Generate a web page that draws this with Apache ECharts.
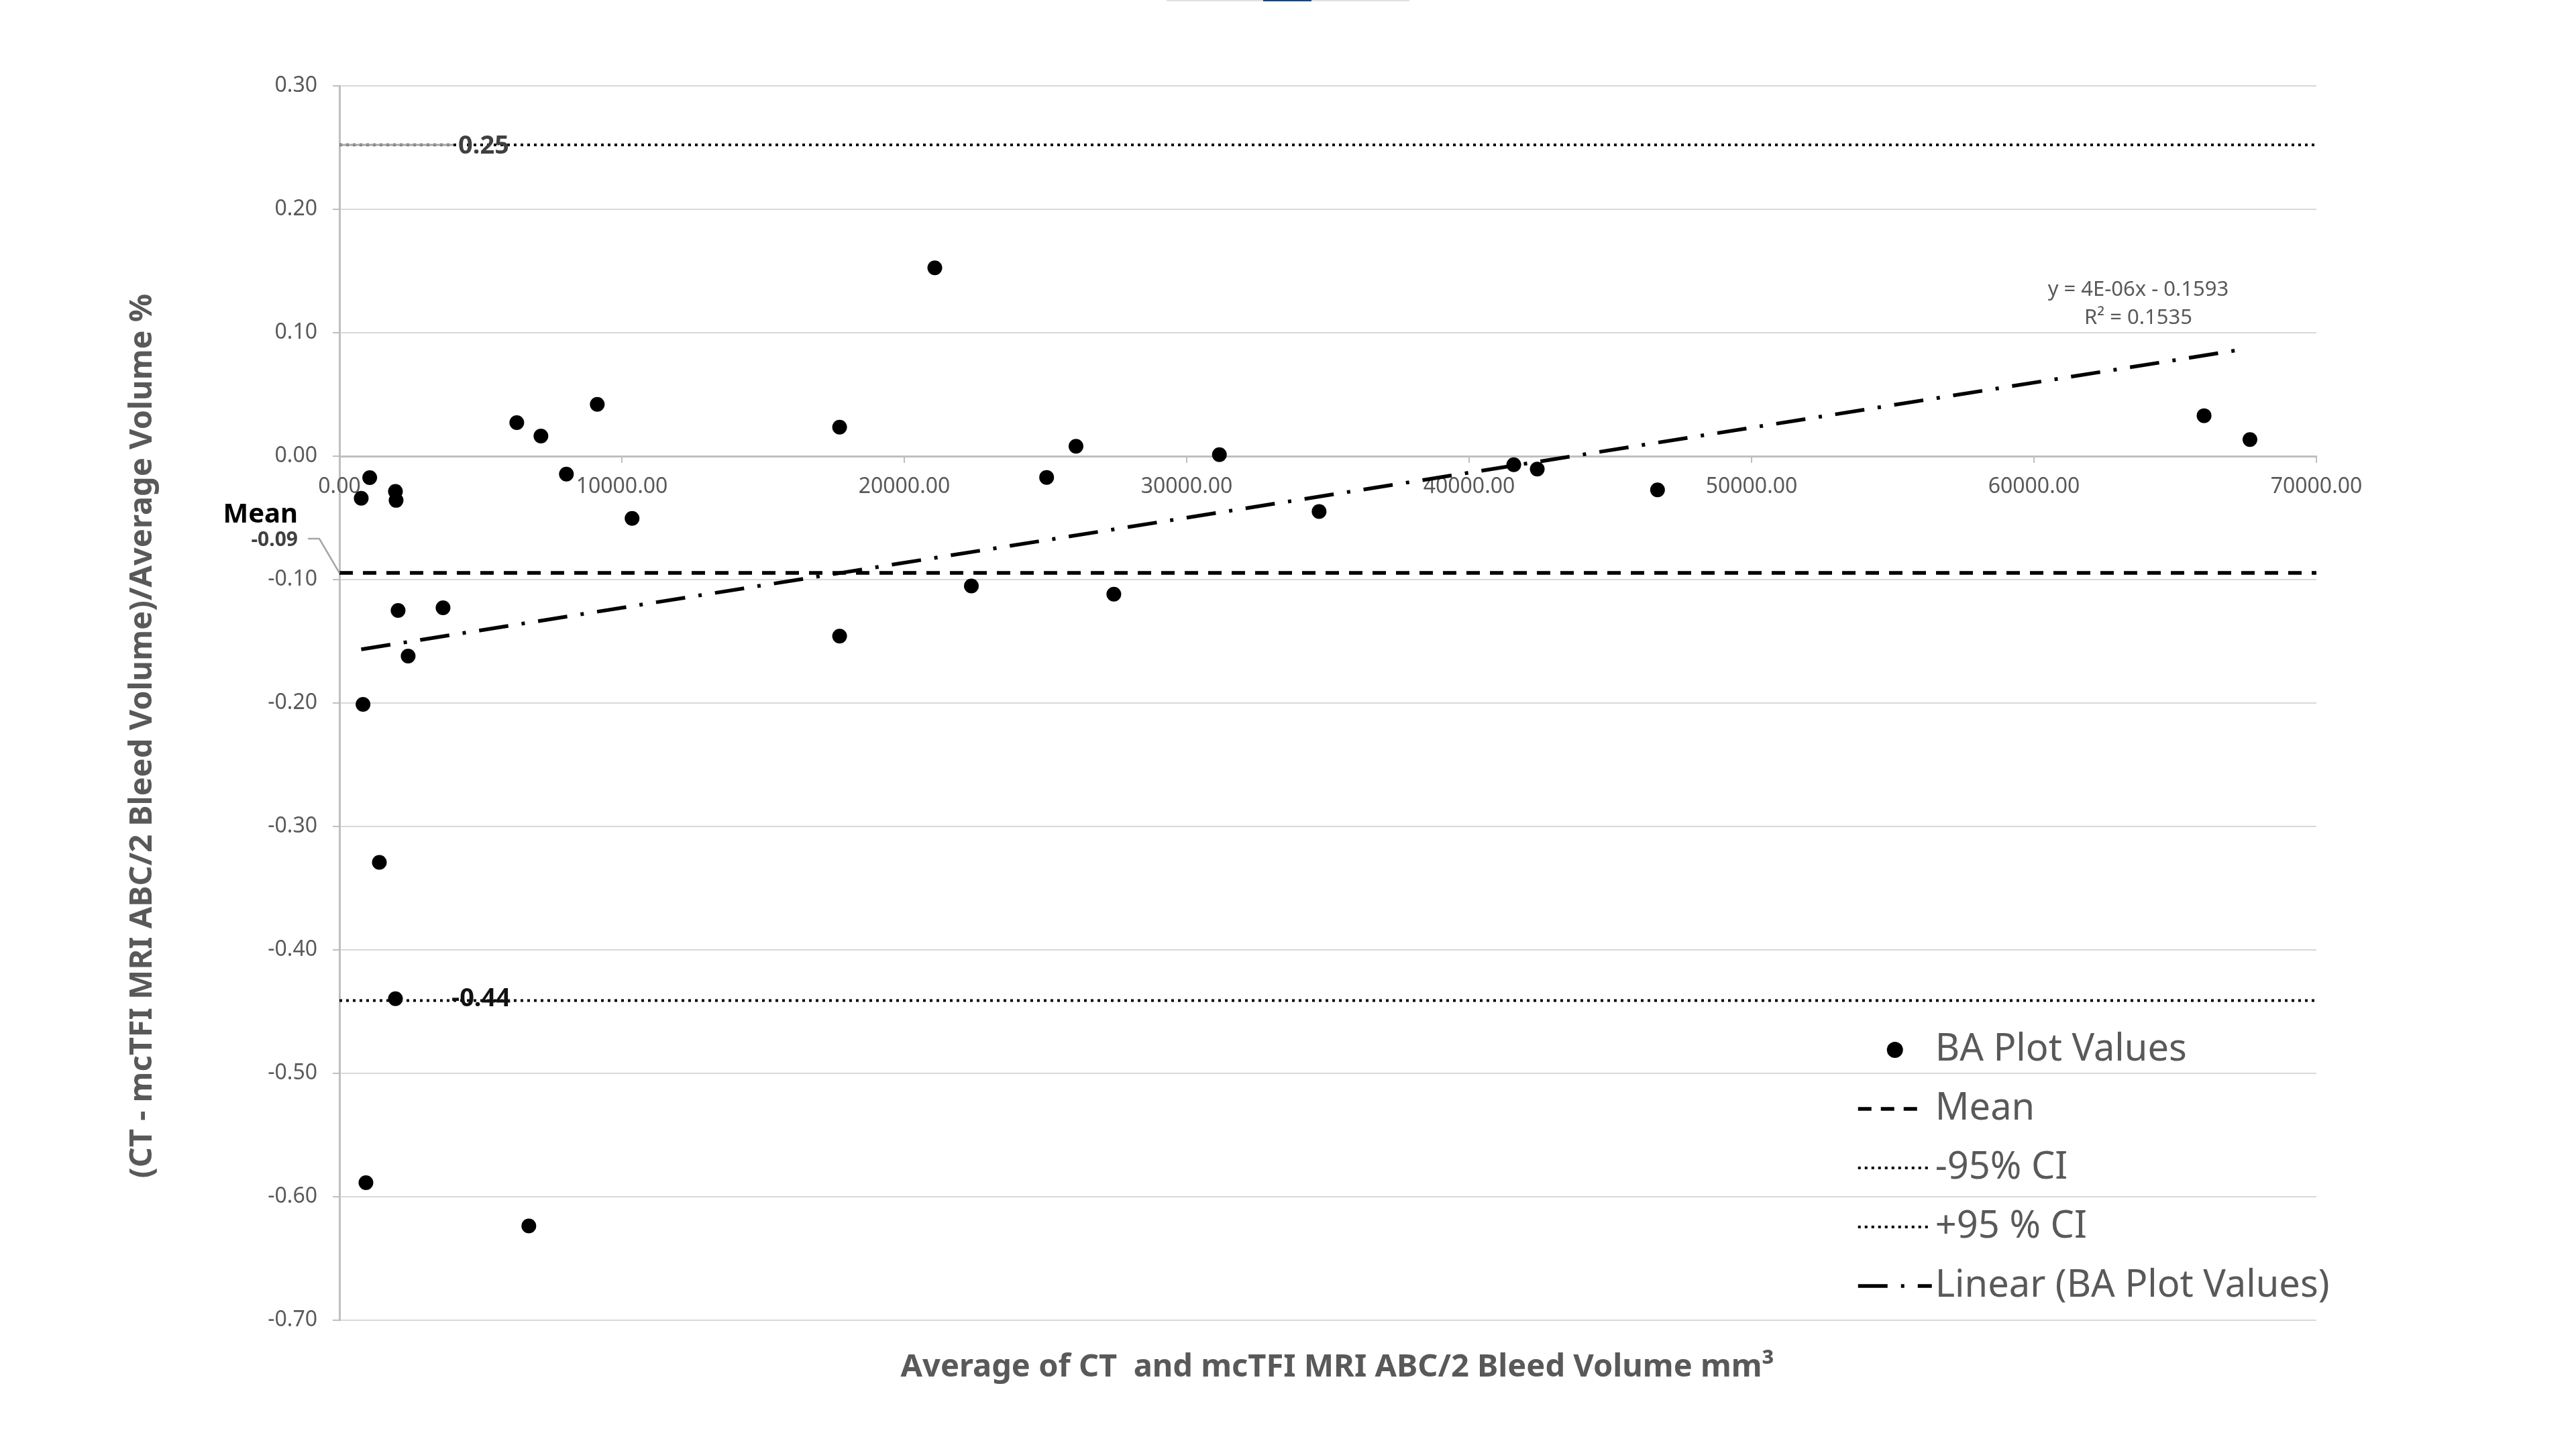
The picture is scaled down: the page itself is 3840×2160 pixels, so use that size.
<!DOCTYPE html>
<html>
<head>
<meta charset="utf-8">
<script src="https://cdn.jsdelivr.net/npm/echarts@6/dist/echarts.min.js"></script>
<style>
html,body{margin:0;padding:0;background:#fff;}
#chart{width:3840px;height:2160px;}
</style>
</head>
<body>
<div id="chart"></div>
<script>
// ---- data ----
const baX = [771, 1072, 1983, 2006, 2077, 2433, 3668, 835, 1413, 1983, 938,
             6279, 7134, 9129, 8036, 10362, 6706, 17710, 17710, 21081, 22375,
             25040, 26080, 27420, 31157, 34688, 41581, 42412, 46671, 66023, 67647];
const baY = [-0.0341, -0.0174, -0.0286, -0.0358, -0.1250, -0.1620, -0.1228, -0.2011, -0.3291, -0.4395, -0.5886,
             0.0272, 0.0163, 0.0420, -0.0145, -0.0504, -0.6236, 0.0235, -0.1458, 0.1526, -0.1052,
             -0.0172, 0.0080, -0.1118, 0.0012, -0.0448, -0.0069, -0.0105, -0.0273, 0.0328, 0.0135];
const meanValue = -0.0946;
const upperCI = 0.2522;
const lowerCI = -0.4411;
const refLineX = [0, 70000];
const trendX = [771, 67184];
const trendY = [-0.1565, 0.0858];
const trendText = ['y = 4E-06x - 0.1593', 'R\u00b2 = 0.1535'];
const seriesNames = ['BA Plot Values', 'Mean', '-95% CI', '+95 % CI', 'Linear (BA Plot Values)'];
const xTitle = 'Average of CT  and mcTFI MRI ABC/2 Bleed Volume mm\u00b3';
const yTitle = '(CT - mcTFI MRI ABC/2 Bleed Volume)/Average Volume %';
const xMin = 0, xMax = 70000, xStep = 10000;
const yMin = -0.7, yMax = 0.3, yStep = 0.1;

const FONT = '"Noto Sans", "Open Sans", sans-serif';
const pair = (xs, ys) => xs.map((x, i) => [x, ys[i]]);
const flat = (v) => refLineX.map(x => [x, v]);

const meanStyle = {color: '#000000', width: 5.5, type: [20, 15]};
const ciStyle = {color: '#000000', width: 4, type: [4, 6]};
const trendStyle = {color: '#000000', width: 5.5, type: [44, 20, 5, 20]};

const chart = echarts.init(document.getElementById('chart'), null, {renderer: 'canvas'});
const hiddenSymbol = {color: 'rgba(0,0,0,0)', borderWidth: 0, opacity: 0};
const option = {
  animation: false,
  backgroundColor: '#ffffff',
  grid: {left: 506, right: 387, top: 128, bottom: 192, containLabel: false, outerBoundsMode: 'none'},
  legend: {
    orient: 'vertical', left: 2762, top: 1530,
    itemWidth: 110, itemHeight: 24, itemGap: 28,
    textStyle: {fontFamily: FONT, fontSize: 56, color: '#595959', lineHeight: 60},
    data: [
      {name: seriesNames[0], itemStyle: {opacity: 1}},
      {name: seriesNames[1], itemStyle: hiddenSymbol,
       lineStyle: {color: '#000000', width: meanStyle.width, type: [20, 14, 20, 14, 20, 30]}},
      {name: seriesNames[2], itemStyle: hiddenSymbol,
       lineStyle: {color: '#000000', width: ciStyle.width, type: ciStyle.type}},
      {name: seriesNames[3], itemStyle: hiddenSymbol,
       lineStyle: {color: '#000000', width: ciStyle.width, type: ciStyle.type}},
      {name: seriesNames[4], itemStyle: hiddenSymbol,
       lineStyle: {color: '#000000', width: trendStyle.width, type: trendStyle.type}}
    ]
  },
  xAxis: {
    type: 'value', min: xMin, max: xMax, interval: xStep,
    name: xTitle, nameLocation: 'middle', nameGap: 1335,
    nameTextStyle: {fontFamily: FONT, fontSize: 47, fontWeight: 'bold', color: '#595959', padding: [0, 0, 0, 28]},
    axisLine: {onZero: false, lineStyle: {color: '#bfbfbf', width: 3}},
    axisTick: {show: true, length: 10, lineStyle: {color: '#bfbfbf', width: 2}},
    axisLabel: {margin: 30, fontFamily: FONT, fontSize: 32, color: '#595959', formatter: v => v.toFixed(2)},
    splitLine: {show: false}
  },
  yAxis: {
    type: 'value', min: yMin, max: yMax, interval: yStep,
    name: yTitle, nameLocation: 'middle', nameRotate: 90, nameGap: 270,
    nameTextStyle: {fontFamily: FONT, fontSize: 47, fontWeight: 'bold', color: '#595959', padding: [0, 98, 0, 0]},
    axisLine: {show: true, onZero: false, lineStyle: {color: '#bfbfbf', width: 3}},
    axisTick: {show: true, length: 10, lineStyle: {color: '#bfbfbf', width: 2}},
    axisLabel: {margin: 33, fontFamily: FONT, fontSize: 32, color: '#595959', formatter: v => v.toFixed(2)},
    splitLine: {show: true, lineStyle: {color: '#d9d9d9', width: 2}}
  },
  series: [
    {name: seriesNames[0], type: 'scatter', data: pair(baX, baY), symbol: 'circle', symbolSize: 22,
     itemStyle: {color: '#000000', opacity: 1}, z: 5},
    {name: seriesNames[1], type: 'line', data: flat(meanValue), symbol: 'none',
     lineStyle: meanStyle, itemStyle: {color: '#000000'}, z: 3},
    {name: seriesNames[2], type: 'line', data: flat(lowerCI), symbol: 'none',
     lineStyle: ciStyle, itemStyle: {color: '#000000'}, z: 3},
    {name: seriesNames[3], type: 'line', data: flat(upperCI), symbol: 'none',
     lineStyle: ciStyle, itemStyle: {color: '#000000'}, z: 3},
    {name: seriesNames[4], type: 'line', data: pair(trendX, trendY), symbol: 'none',
     lineStyle: trendStyle, itemStyle: {color: '#000000'}, z: 4}
  ]
};
chart.setOption(option);

// annotations and the x-axis crossing, positioned from the chart's own scales
const px = (x, y) => chart.convertToPixel({gridIndex: 0}, [x, y]);
const pZero = px(xMin, 0), pBottom = px(xMin, yMin);
const pU = px(0, upperCI), pL = px(0, lowerCI), pM = px(0, meanValue), pT = px(trendX[1], trendY[1]);
const boldFont = (s) => 'bold ' + s + 'px ' + FONT;
chart.setOption({
  xAxis: {offset: pZero[1] - pBottom[1]},
  graphic: [
    // top strip
    {type: 'rect', shape: {x: 1739, y: 0, width: 362, height: 2}, style: {fill: '#e1e1e1'}, z: 100},
    {type: 'rect', shape: {x: 1883, y: 0, width: 72, height: 2}, style: {fill: '#0b4a8b'}, z: 101},
    // +95% CI data label with leader
    {type: 'polyline', shape: {points: [[pU[0], pU[1]], [pU[0] + 170, pU[1]]]}, style: {stroke: '#a6a6a6', lineWidth: 3, fill: null}, z: 100},
    {type: 'text', x: pU[0] + 215, y: pU[1] + 2, style: {text: upperCI.toFixed(2), font: boldFont(38), fill: '#404040', align: 'center', verticalAlign: 'middle'}, z: 101},
    // -95% CI data label
    {type: 'text', x: pL[0] + 211, y: pL[1] - 2, style: {text: lowerCI.toFixed(2), font: boldFont(38), fill: '#111111', align: 'center', verticalAlign: 'middle'}, z: 101},
    // Mean label with leader
    {type: 'polyline', shape: {points: [[pM[0] - 47, pM[1] - 51], [pM[0] - 30, pM[1] - 51], [pM[0], pM[1]]]}, style: {stroke: '#a6a6a6', lineWidth: 2.5, fill: null}, z: 100},
    {type: 'text', x: pM[0] - 62, y: pM[1] - 86, style: {text: seriesNames[1], font: boldFont(40), fill: '#000000', align: 'right', verticalAlign: 'middle'}, z: 101},
    {type: 'text', x: pM[0] - 62, y: pM[1] - 49, style: {text: meanValue.toFixed(2), font: boldFont(30), fill: '#404040', align: 'right', verticalAlign: 'middle'}, z: 101},
    // trendline equation
    {type: 'text', x: pT[0] - 147, y: pT[1] - 90, style: {text: trendText[0], font: '31px ' + FONT, fill: '#595959', align: 'center', verticalAlign: 'middle'}, z: 101},
    {type: 'text', x: pT[0] - 147, y: pT[1] - 48, style: {text: trendText[1], font: '31px ' + FONT, fill: '#595959', align: 'center', verticalAlign: 'middle'}, z: 101}
  ]
});
</script>
</body>
</html>
